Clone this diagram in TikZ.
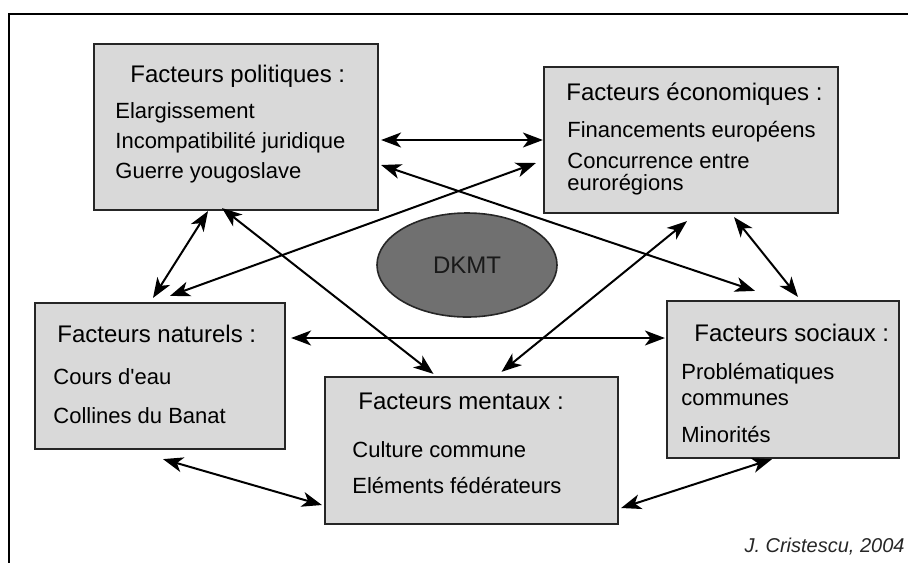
\documentclass[tikz,border=0pt]{standalone}
\usepackage{fontspec}
\setmainfont{Liberation Sans}
\usepackage{xcolor}
\usetikzlibrary{shapes.geometric,arrows.meta,calc}
\definecolor{boxgray}{RGB}{217,217,217}
\definecolor{coregray}{RGB}{112,112,112}

\begin{document}
\begin{tikzpicture}[x=0.5pt,y=-0.5pt,
  facteur/.style={draw=black!85,line width=1.1pt,fill=boxgray,inner sep=0pt},
  titre/.style={anchor=base west,inner sep=0pt,font=\fontsize{12}{14}\selectfont},
  item/.style={anchor=base west,inner sep=0pt,font=\fontsize{11}{13}\selectfont},
  lien/.style={line width=1pt,{Stealth[length=10pt,width=7.5pt,inset=2.8pt]}-{Stealth[length=10pt,width=7.5pt,inset=2.8pt]}}]
\useasboundingbox (0,0) rectangle (908,563);
\draw[line width=0.8pt] (908,14) -- (9,14) -- (9,563);
\node[facteur,minimum width=142pt,minimum height=83pt] (pol) at (236,127) {};
\node[facteur,minimum width=147pt,minimum height=73pt] (eco) at (691,140) {};
\node[facteur,minimum width=125pt,minimum height=73pt] (nat) at (160,376) {};
\node[facteur,minimum width=146.5pt,minimum height=73.5pt] (ment) at (471.5,450.5) {};
\node[facteur,minimum width=116pt,minimum height=78.5pt] (soc) at (783,379.5) {};
\node[ellipse,draw=black!85,line width=0.8pt,fill=coregray,minimum width=90pt,minimum height=52pt,
  font=\fontsize{12}{14}\selectfont,text=black!90] (dkmt) at (467,265) {DKMT};
\node[titre] (pol-t) at (130,82) {Facteurs politiques :};
\node[titre] (eco-t) at (566,100) {Facteurs économiques :};
\node[titre] (nat-t) at (57,342) {Facteurs naturels :};
\node[titre] (ment-t) at (358,409) {Facteurs mentaux :};
\node[titre] (soc-t) at (694,341) {Facteurs sociaux :};
\foreach \nom/\xx/\yy/\txt in {
  pol1/115/118/Elargissement,
  pol2/115/148/{Incompatibilité juridique},
  pol3/115/178/{Guerre yougoslave},
  eco1/567/137/{Financements européens},
  eco2/567/168/{Concurrence entre},
  eco3/567/190/eurorégions,
  nat1/53/384/{Cours d\textquotesingle eau},
  nat2/53/423/{Collines du Banat},
  ment1/352/457/{Culture commune},
  ment2/352/493/{Eléments fédérateurs},
  soc1/681/379/Problématiques,
  soc2/681/405/communes,
  soc3/681/442/Minorités}{
  \node[item] (\nom) at (\xx,\yy) {\txt};
}
\draw[lien] ($(pol.east)+(2,13)$) -- (eco.west);
\draw[lien] ($(pol.east)+(2,38)$) -- ($(soc.north)+(-28,-9)$);
\draw[lien] ($(pol.south)+(-28,0)$) -- ($(nat.north)+(-7,-4)$);
\draw[lien] ($(pol.south)+(-14,-3)$) -- ($(ment.north)+(-38,-2)$);
\draw[lien] ($(eco.west)+(-7,23)$) -- ($(nat.north)+(10,-6)$);
\draw[lien] ($(eco.south)+(-4,7)$) -- ($(ment.north)+(30,-4)$);
\draw[lien] ($(eco.south)+(43,3)$) -- ($(soc.north)+(15,-3)$);
\draw[lien] ($(nat.east)+(5,-38)$) -- ($(soc.west)+(-1,-41.5)$);
\draw[lien] ($(nat.south)+(3,9)$) -- ($(ment.west)+(-2,54.5)$);
\draw[lien] ($(ment.east)+(2,57.5)$) -- ($(soc.south)+(-11,0)$);
\node[anchor=base east,inner sep=0pt,font=\fontsize{10}{12}\selectfont\itshape,text=black!85] (auteur) at (905,552) {J. Cristescu, 2004};
\end{tikzpicture}
\end{document}
